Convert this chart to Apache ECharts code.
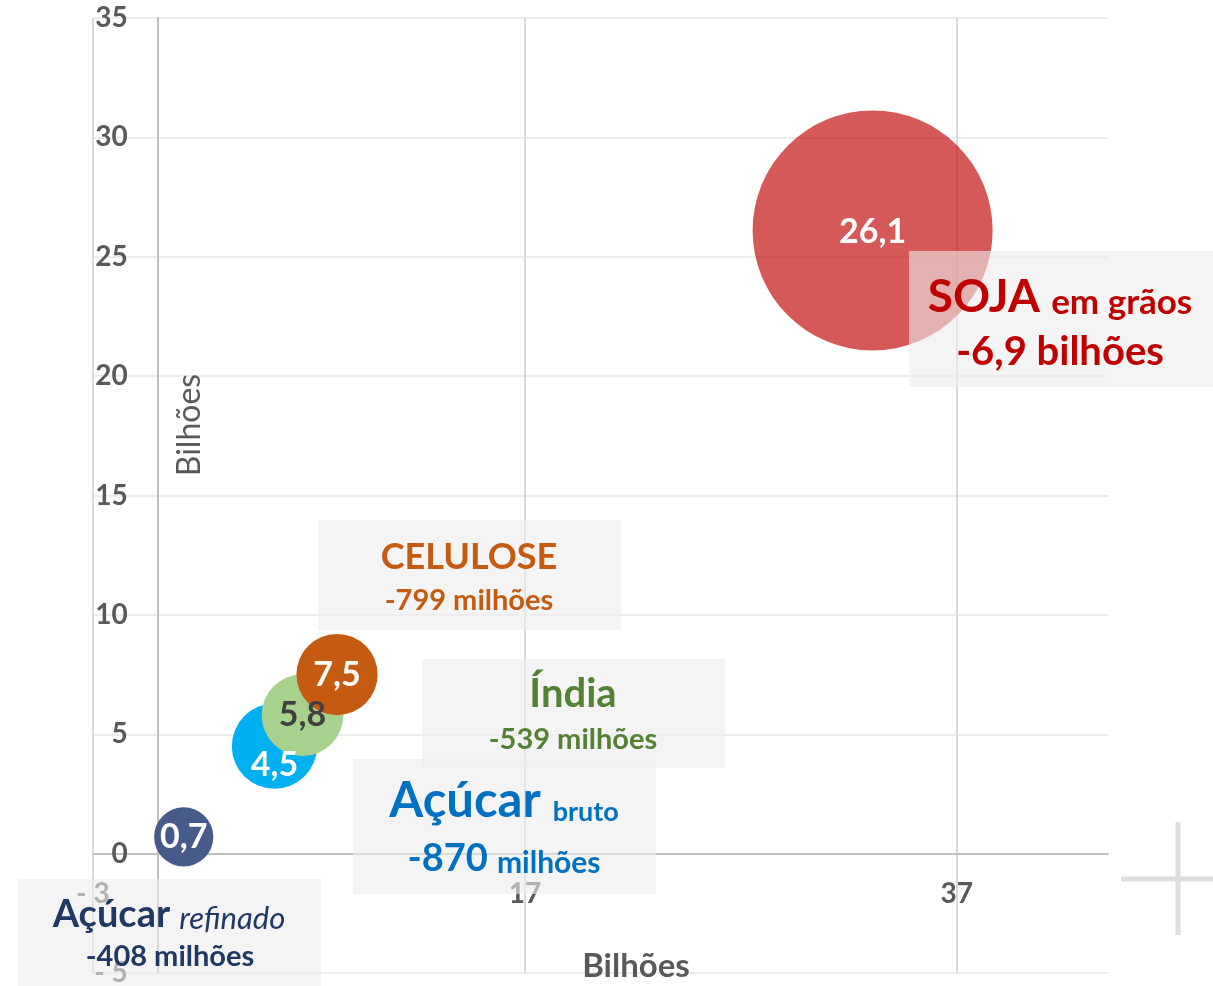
<!DOCTYPE html>
<html>
<head>
<meta charset="utf-8">
<script src="https://cdn.jsdelivr.net/npm/echarts@6/dist/echarts.min.js"></script>
<style>
html,body{margin:0;padding:0;background:#fff;}
#chart{width:1213px;height:986px;}
</style>
</head>
<body>
<div id="chart"></div>
<script>
// ---- data ----
const products = ['Açúcar refinado', 'Açúcar bruto', 'Índia', 'CELULOSE', 'SOJA em grãos'];
const xValues = [1.2, 5.4, 6.7, 8.3, 33.1];          // Bilhões (horizontal)
const yValues = [0.7, 4.5, 5.8, 7.5, 26.1];          // Bilhões (vertical, shown in bubble)
const bubbleSizes = [0.42, 0.87, 0.80, 0.79, 6.9];   // bubble size (area) values
const deficitLabels = ['-408 milhões', '-870 milhões', '-539 milhões', '-799 milhões', '-6,9 bilhões'];
const xMin = -3, xMax = 44, xInterval = 20;
const yMin = -5, yMax = 35, yInterval = 5;
const axisTitle = 'Bilhões';

// ---- styles ----
const FONT = 'Lato';
const bubbleColors = ['#475b8b', '#00b0f0', '#a9d18e', '#c55a11', 'rgba(192,0,0,0.65)'];
const bubbleLabelColors = ['#ffffff', '#ffffff', '#404040', '#ffffff', '#ffffff'];
const bubbleLabelOffsets = [[0, 0], [0, 19], [0, 0], [0, 0], [0, 2]];
const maxDiameter = 240;
const maxSize = Math.max.apply(null, bubbleSizes);

const fmtNum = v => (v < 0 ? '- ' + Math.abs(v) : String(v)).replace('.', ',');

const seriesData = products.map((p, i) => ({
  name: p,
  value: [xValues[i], yValues[i], bubbleSizes[i]],
  itemStyle: { color: bubbleColors[i], opacity: 1 },
  label: { color: bubbleLabelColors[i], offset: bubbleLabelOffsets[i] }
}));

const boxFill = 'rgba(236,236,236,0.6)';
function box(x, y, w, h) {
  return { type: 'rect', z: 100, shape: { x: x, y: y, width: w, height: h }, style: { fill: boxFill } };
}
function txt(x, y, text, rich) {
  return {
    type: 'text', z: 101, x: x, y: y,
    style: { text: text, rich: rich, align: 'center', verticalAlign: 'middle', fontFamily: FONT }
  };
}
const R = (size, color, weight, style) => ({ fontSize: size, fontWeight: weight || 'bold', fontStyle: style || 'normal', fill: color, fontFamily: FONT, verticalAlign: 'bottom', lineHeight: size });

const cSoja = '#c00000', cCel = '#c55a11', cInd = '#548235', cBru = '#0070c0', cRef = '#1f3864';

const graphics = [
  // SOJA
  box(909, 251, 304, 136),
  txt(1060, 297, '{a|SOJA }{b|em grãos}', { a: R(46, cSoja), b: R(35, cSoja) }),
  txt(1060, 352, '{a|' + deficitLabels[4] + '}', { a: R(40, cSoja) }),
  // CELULOSE
  box(318, 520, 303, 110),
  txt(469, 557, '{a|' + products[3] + '}', { a: R(36, cCel) }),
  txt(469, 601, '{a|' + deficitLabels[3] + '}', { a: R(29, cCel) }),
  // Índia
  box(422, 659, 303, 109),
  txt(573, 694, '{a|' + products[2] + '}', { a: R(40, cInd) }),
  txt(573, 740, '{a|' + deficitLabels[2] + '}', { a: R(29, cInd) }),
  // Açúcar bruto
  box(353, 759, 303, 135),
  txt(504, 801, '{a|Açúcar }{b|bruto}', { a: R(49, cBru), b: R(27, cBru) }),
  txt(504, 859, '{a|-870 }{b|milhões}', { a: R(38, cBru), b: R(30, cBru) }),
  // Açúcar refinado
  box(18, 879, 303, 107),
  txt(169, 915, '{a|Açúcar }{b|refinado}', { a: R(38, cRef), b: R(31, cRef, 'normal', 'italic') }),
  txt(170, 957, '{a|' + deficitLabels[0] + '}', { a: R(29, cRef) }),
  // axis titles
  { type: 'text', z: 50, x: 190, y: 425, rotation: Math.PI / 2,
    style: { text: axisTitle, fontFamily: FONT, fontSize: 32, fill: '#595959', align: 'center', verticalAlign: 'middle' } },
  { type: 'text', z: 50, x: 636, y: 966,
    style: { text: axisTitle, fontFamily: FONT, fontSize: 33, fontWeight: 'bold', fill: '#595959', align: 'center', verticalAlign: 'middle' } },
  // cross mark at the right
  { type: 'line', z: 10, shape: { x1: 1178, y1: 822, x2: 1178, y2: 935 }, style: { stroke: '#dedede', lineWidth: 5 } },
  { type: 'line', z: 10, shape: { x1: 1121, y1: 879, x2: 1213, y2: 879 }, style: { stroke: '#dedede', lineWidth: 5 } }
];

const GRID = { left: 93, right: 105, top: 18, bottom: 13 };

const chart = echarts.init(document.getElementById('chart'), null, { renderer: 'canvas' });
chart.setOption({
  animation: false,
  backgroundColor: '#ffffff',
  grid: { left: GRID.left, right: GRID.right, top: GRID.top, bottom: GRID.bottom, containLabel: false, outerBoundsMode: 'none' },
  xAxis: {
    type: 'value', min: xMin, max: xMax, interval: xInterval, position: 'bottom',
    axisLine: { show: true, onZero: false, lineStyle: { color: '#bfbfbf', width: 2 } },
    axisTick: { show: false },
    axisLabel: { margin: 26, color: '#595959', fontSize: 28, fontWeight: 'bold', fontFamily: FONT, showMaxLabel: false, formatter: fmtNum },
    splitLine: { show: true, lineStyle: { color: ['#d9d9d9', '#d9d9d9', '#d9d9d9', 'rgba(0,0,0,0)'], width: 2 } }
  },
  yAxis: {
    type: 'value', min: yMin, max: yMax, interval: yInterval, position: 'left',
    axisLine: { show: true, onZero: false, lineStyle: { color: '#bfbfbf', width: 2 } },
    axisTick: { show: false },
    axisLabel: { margin: 30, color: '#595959', fontSize: 28, fontWeight: 'bold', fontFamily: FONT, formatter: fmtNum },
    splitLine: { show: true, lineStyle: { color: '#ededed', width: 2 } }
  },
  series: [{
    type: 'scatter',
    data: seriesData,
    symbol: 'circle',
    symbolSize: v => maxDiameter * Math.sqrt(v[2] / maxSize),
    itemStyle: { opacity: 1 },
    label: {
      show: true, position: 'inside', fontFamily: FONT, fontWeight: 'bold', fontSize: 34,
      formatter: p => fmtNum(p.value[1])
    },
    emphasis: { disabled: true }
  }],
  graphic: graphics
});

// place both axes (line + labels) on the zero crossing of the other axis
const zeroY = chart.convertToPixel({ yAxisIndex: 0 }, 0);
const zeroX = chart.convertToPixel({ xAxisIndex: 0 }, 0);
const gridBottomPx = 986 - GRID.bottom;
chart.setOption({
  xAxis: { offset: -(gridBottomPx - zeroY) },
  yAxis: { offset: -(zeroX - GRID.left) }
});
</script>
</body>
</html>
